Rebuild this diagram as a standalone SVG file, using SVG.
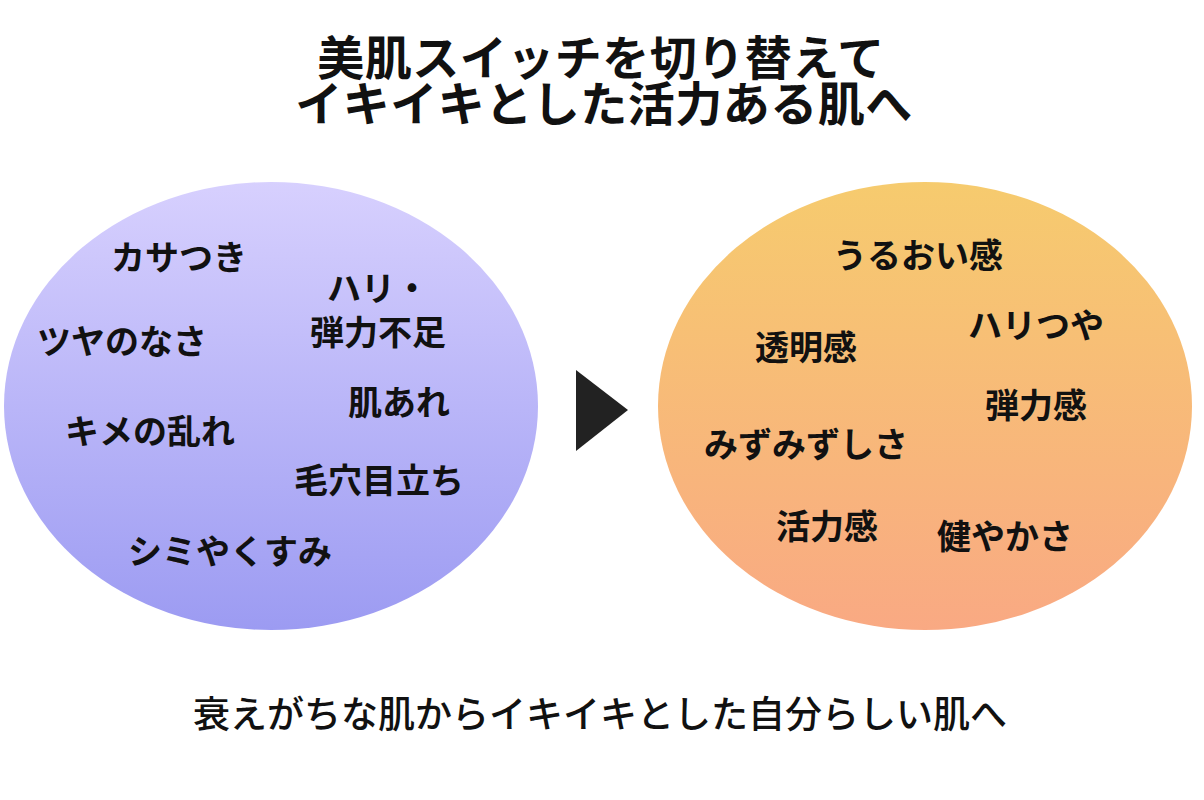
<svg xmlns="http://www.w3.org/2000/svg" width="1204" height="800" viewBox="0 0 1204 800">
  <defs>
    <linearGradient id="gLeft" x1="0" y1="0" x2="0" y2="1">
      <stop offset="0" stop-color="#D7D0FE"/>
      <stop offset="1" stop-color="#9C9BF2"/>
    </linearGradient>
    <linearGradient id="gRight" x1="0" y1="0" x2="0" y2="1">
      <stop offset="0" stop-color="#F6CB6E"/>
      <stop offset="1" stop-color="#F9A983"/>
    </linearGradient>
    <style>
      text { font-family: "Noto Sans CJK JP", "Noto Sans", sans-serif; fill: #111; text-anchor: middle; }
      .title { font-size: 47px; font-weight: 700; letter-spacing: 0.5px; }
      .lbl { font-size: 34px; font-weight: 700; }
      .foot { font-size: 37px; font-weight: 500; }
    </style>
  </defs>
  <rect width="1204" height="800" fill="#FFFFFF"/>

  <g id="title">
    <text class="title" x="601" y="75">美肌スイッチを切り替えて</text>
    <text class="title" x="604" y="121">イキイキとした活力ある肌へ</text>
  </g>

  <g id="before">
    <ellipse cx="271" cy="406" rx="267" ry="224" fill="url(#gLeft)"/>
    <text class="lbl" x="179" y="270">カサつき</text>
    <text class="lbl" x="378" y="301">ハリ・</text>
    <text class="lbl" x="378" y="345">弾力不足</text>
    <text class="lbl" x="122" y="354">ツヤのなさ</text>
    <text class="lbl" x="399" y="415">肌あれ</text>
    <text class="lbl" x="150" y="444">キメの乱れ</text>
    <text class="lbl" x="379" y="493">毛穴目立ち</text>
    <text class="lbl" x="230" y="564">シミやくすみ</text>
  </g>

  <g id="connectors">
    <polygon points="576,370 576,451 628,410" fill="#222222"/>
  </g>

  <g id="after">
    <ellipse cx="925" cy="406" rx="267" ry="224" fill="url(#gRight)"/>
    <text class="lbl" x="918" y="268">うるおい感</text>
    <text class="lbl" x="1036" y="338">ハリつや</text>
    <text class="lbl" x="806" y="360">透明感</text>
    <text class="lbl" x="1036" y="418">弾力感</text>
    <text class="lbl" x="806" y="457">みずみずしさ</text>
    <text class="lbl" x="827" y="539">活力感</text>
    <text class="lbl" x="1005" y="549">健やかさ</text>
  </g>

  <g id="footer">
    <text class="foot" x="600" y="728">衰えがちな肌からイキイキとした自分らしい肌へ</text>
  </g>
</svg>
